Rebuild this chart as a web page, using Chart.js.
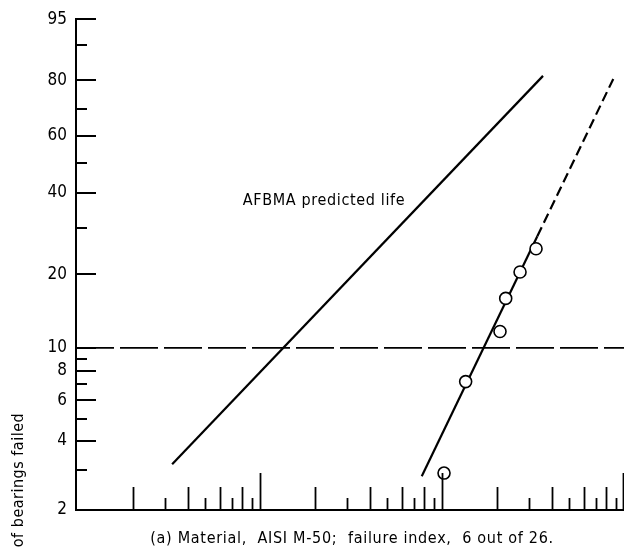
<!DOCTYPE html>
<html><head><meta charset="utf-8">
<script src="https://cdn.jsdelivr.net/npm/chart.js@4/dist/chart.umd.min.js"></script>
<style>html,body{margin:0;padding:0;background:#fff;overflow:hidden;} canvas{display:block;}</style>
</head><body><canvas id="c" width="624" height="554" style="width:624px;height:554px;"></canvas>
<script>
const FONT = "'Liberation Sans Narrow', 'DejaVu Sans Condensed', 'Arial Narrow', sans-serif";

// Percent-failed tick values (Weibull probability scale) and their labels
const yTickPercents = [2,3,4,5,6,7,8,9,10,20,30,40,50,60,70,80,90,95];
const yTickLabels   = ['2','','4','','6','','8','','10','20','','40','','60','','80','','95'];
// Life tick values (log scale, unlabelled)
const xTickLives = [2,3,4,5,6,7,8,9,10,20,30,40,50,60,70,80,90,100,200,300,400,500,600,700,800,900,1000];

// Failed bearings
const failureLives    = [102.6, 134.9, 208.3, 223.9, 268.4, 328.6];
const failurePercents = [2.9, 7.2, 11.7, 16.0, 20.4, 25.1];

// Fitted Weibull line (solid over the data, dashed extrapolation)
const fitSolidLives     = [77.4, 334];
const fitSolidPercents  = [2.81, 28.0];
const fitDashedLives    = [334, 873];
const fitDashedPercents = [28.0, 80.4];

// AFBMA predicted life line
const afbmaLives    = [3.29, 359];
const afbmaPercents = [3.17, 81.4];

// 10-percent reference line
const refLives    = [0.975, 1000];
const refPercents = [10, 10];

const captionText = '(a) Material,  AISI M-50;  failure index,  6 out of 26.';
const yTitleText  = 'of bearings failed';
const afbmaText   = 'AFBMA predicted life';

// Weibull transform: ln(ln(1/(1-F)))
const W = p => Math.log(-Math.log(1 - p / 100));
const pts = (xs, ps) => xs.map((x, i) => ({x: x, y: W(ps[i])}));

const marksPlugin = {
  id: 'marks',
  afterDatasetsDraw(chart) {
    const ctx = chart.ctx, xs = chart.scales.x, ys = chart.scales.y, ca = chart.chartArea;
    ctx.save();
    ctx.strokeStyle = '#000';
    ctx.lineCap = 'butt';
    // x ticks drawn inward from bottom axis
    xTickLives.forEach(v => {
      const px = Math.min(Math.round(xs.getPixelForValue(v)), ca.right - 1) + 0.5;
      const lead = Math.round(v / Math.pow(10, Math.floor(Math.log10(v) + 1e-9)));
      const len = (lead === 1) ? 37 : (lead % 2 === 0 ? 23 : 12);
      ctx.lineWidth = 1.8;
      ctx.beginPath();
      ctx.moveTo(px, ca.bottom);
      ctx.lineTo(px, ca.bottom - len);
      ctx.stroke();
    });
    // y ticks drawn inward from left axis
    yTickPercents.forEach((p, i) => {
      const py = Math.round(ys.getPixelForValue(W(p)));
      const len = yTickLabels[i] ? 20 : 11;
      ctx.lineWidth = 2;
      ctx.beginPath();
      ctx.moveTo(ca.left, py);
      ctx.lineTo(ca.left + len, py);
      ctx.stroke();
    });
    ctx.fillStyle = '#000';
    ctx.textAlign = 'center';
    ctx.textBaseline = 'alphabetic';
    // annotation
    ctx.font = '16px ' + FONT;
    ctx.letterSpacing = '0.65px';
    ctx.fillText(afbmaText, 324, 205);
    // caption
    ctx.font = '16px ' + FONT;
    ctx.letterSpacing = '0.7px';
    ctx.fillText(captionText, 352, 543);
    // y title (partially visible)
    ctx.translate(19, 480);
    ctx.rotate(-Math.PI / 2);
    ctx.textBaseline = 'middle';
    ctx.font = '16px ' + FONT;
    ctx.letterSpacing = '0.5px';
    ctx.fillText(yTitleText, 0, 0);
    ctx.restore();
  }
};

new Chart(document.getElementById('c'), {
  type: 'scatter',
  data: {
    datasets: [
      {data: pts(failureLives, failurePercents), showLine: false, pointRadius: 6, pointHoverRadius: 6,
       pointBorderWidth: 1.6, pointBackgroundColor: '#fff', pointBorderColor: '#000'},
      {data: pts(fitSolidLives, fitSolidPercents), showLine: true, pointRadius: 0, borderColor: '#000', borderWidth: 2.2},
      {data: pts(fitDashedLives, fitDashedPercents), showLine: true, pointRadius: 0, borderColor: '#000', borderWidth: 2.2, borderDash: [10, 5]},
      {data: pts(afbmaLives, afbmaPercents), showLine: true, pointRadius: 0, borderColor: '#000', borderWidth: 2.2},
      {data: pts(refLives, refPercents), showLine: true, pointRadius: 0, borderColor: '#000', borderWidth: 1.8, borderDash: [38, 6]}
    ]
  },
  options: {
    responsive: false, animation: false,
    layout: {autoPadding: false, padding: {top: 16, right: 0, bottom: 0, left: 0}},
    plugins: {legend: {display: false}, tooltip: {enabled: false}},
    scales: {
      x: {
        type: 'logarithmic', min: 0.975, max: 1000,
        ticks: {display: false},
        grid: {display: true, drawOnChartArea: false, drawTicks: false},
        border: {display: true, color: '#000', width: 2},
        afterFit: s => { s.height = 44; s.paddingRight = 0; s.paddingLeft = 0; }
      },
      y: {
        type: 'linear', min: W(2), max: W(95),
        afterBuildTicks: s => { s.ticks = yTickPercents.map(p => ({value: W(p)})); },
        ticks: {
          autoSkip: false, padding: 9, color: '#000',
          font: {family: FONT, size: 17},
          callback: (v, i) => yTickLabels[i]
        },
        grid: {display: true, drawOnChartArea: false, drawTicks: false},
        border: {display: true, color: '#000', width: 2},
        afterFit: s => { s.width = 76; }
      }
    }
  },
  plugins: [marksPlugin]
});
</script>
</body></html>
